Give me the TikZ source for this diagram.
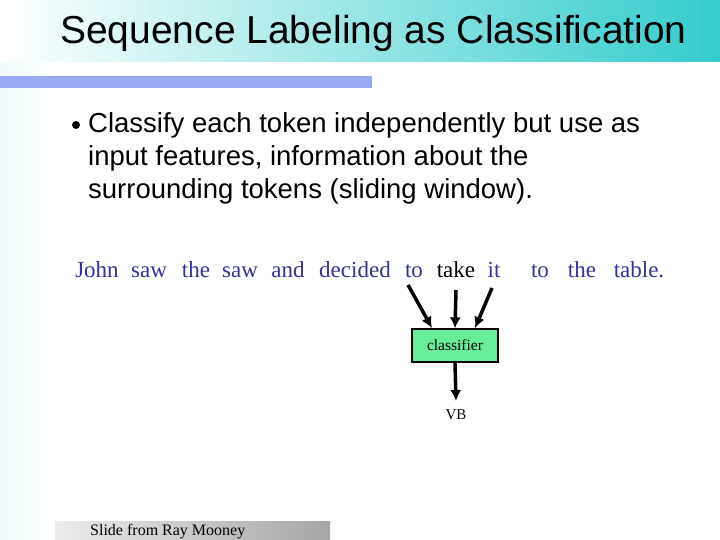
\documentclass[tikz,border=0pt]{standalone}
\usepackage{fontspec}
\setmainfont{Liberation Serif}
\newfontfamily\arialf{Liberation Sans}
\usetikzlibrary{arrows.meta}
\definecolor{teal1}{HTML}{33CCCC}
\definecolor{wblue}{HTML}{333399}
\definecolor{barblue}{HTML}{99AAF5}
\definecolor{clsgreen}{HTML}{66EE99}
\tikzset{word/.style={text=wblue,font=\fontsize{23}{28}\selectfont,anchor=base,inner sep=0pt},
bodyline/.style={anchor=base west,inner sep=0pt,font=\arialf\fontsize{27.5}{33}\selectfont},
arr/.style={line width=3.5pt,-{Latex[length=11pt,width=11pt]}}}
\begin{document}
\begin{tikzpicture}[x=1pt,y=-1pt]
\useasboundingbox (0,0) rectangle (720,540);
\fill[white] (0,0) rectangle (720,540);
\shade[left color=teal1!8,right color=white] (0,0) rectangle (55,540);
\shade[left color=white,right color=teal1] (0,0) rectangle (720,62);
\fill[barblue] (0,76) rectangle (372,88);
\node[anchor=base west,inner sep=0pt,font=\arialf\fontsize{39}{44}\selectfont] (title) at (60,44) {Sequence Labeling as Classification};
\node[circle,fill=black,inner sep=0pt,minimum size=8pt] (bul) at (76,125) {};
\node[bodyline] (l1) at (88,133) {Classify each token independently but use as};
\node[bodyline] (l2) at (88,166) {input features, information about the};
\node[bodyline] (l3) at (88,199) {surrounding tokens (sliding window).};
\foreach \n/\x/\t in {w1/97/John,w2/149/saw,w3/196/the,w4/240/saw,w5/288/and,w6/355/decided,w7/414/to,w9/494/it,w10/540/to,w11/582/the,w12/639/table.}
  \node[word] (\n) at (\x,277) {\t};
\node[word,text=black] (w8) at (456,277) {take};
\node[draw=black,line width=1.3pt,fill=clsgreen,minimum width=86pt,minimum height=33pt,inner sep=0pt,font=\fontsize{15.5}{18}\selectfont] (cls) at (455,345.5) {classifier};
\node[anchor=base,inner sep=0pt,font=\fontsize{15}{18}\selectfont] (vb) at (456,419) {VB};
\coordinate (a1) at (408,285); \coordinate (a2) at (456,290); \coordinate (a3) at (492,288);
\coordinate (v) at (456,401);
\draw[arr] (a1) -- (432,328);
\draw[arr] (a2) -- (cls.north);
\draw[arr] (a3) -- (475,328);
\draw[arr] (cls.south) -- (v);
\shade[left color=gray!15,right color=gray!70] (55,521) rectangle (330,540);
\node[anchor=base west,inner sep=0pt,font=\fontsize{16}{18}\selectfont] (foot) at (90,535) {Slide from Ray Mooney};
\end{tikzpicture}
\end{document}
